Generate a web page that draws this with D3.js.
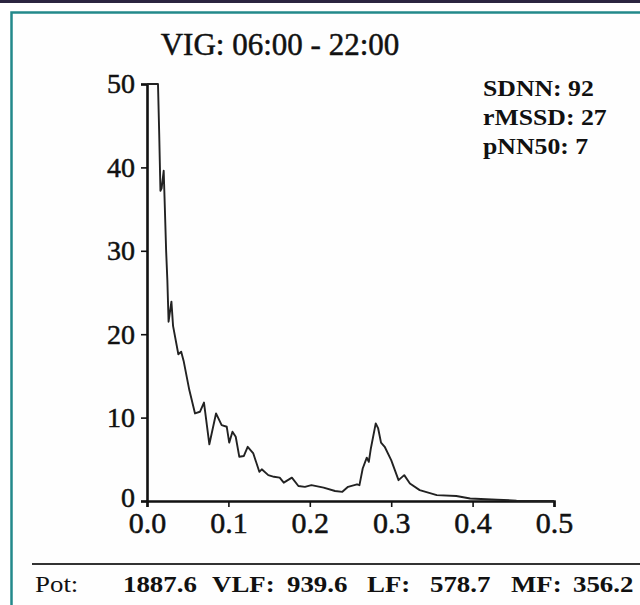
<!DOCTYPE html>
<html>
<head>
<meta charset="utf-8">
<script src="https://cdn.jsdelivr.net/npm/d3@7"></script>
<style>
  body { margin: 0; background: #ffffff; }
  svg { display: block; }
  text { font-family: "Liberation Serif", "Times New Roman", serif; fill: #111; }
</style>
</head>
<body>
<div id="chart"></div>
<script>
// Data
//= ================================
var freq = [0.000, 0.008, 0.0135, 0.015, 0.0165, 0.018, 0.0205, 0.0215, 0.0235, 0.025,
  0.0265, 0.030, 0.032, 0.0385, 0.042, 0.045, 0.052, 0.059, 0.065, 0.070,
  0.0766, 0.0848, 0.0917, 0.098, 0.101, 0.105, 0.109, 0.1134, 0.119, 0.1237,
  0.1306, 0.138, 0.141, 0.149, 0.156, 0.163, 0.168, 0.178, 0.186, 0.194,
  0.202, 0.217, 0.231, 0.240, 0.247, 0.258, 0.261, 0.265, 0.270, 0.2725,
  0.275, 0.281, 0.284, 0.2875, 0.292, 0.300, 0.309, 0.316, 0.323, 0.335,
  0.356, 0.380, 0.397, 0.430, 0.454, 0.500];
var power = [80, 65, 50, 44, 37.2, 37.5, 39.6, 36.5, 30, 26.5,
  21.5, 23.9, 21, 17.6, 17.9, 16.8, 13.3, 10.5, 10.7, 11.8,
  6.8, 10.5, 9.1, 8.9, 7.0, 8.3, 7.7, 5.3, 5.4, 6.5,
  5.7, 3.5, 3.8, 3.1, 2.9, 2.8, 2.2, 2.8, 1.8, 1.7,
  1.9, 1.6, 1.2, 1.1, 1.7, 2.0, 1.9, 3.9, 5.2, 4.7,
  6.3, 9.3, 8.7, 7.0, 6.5, 4.9, 2.5, 3.1, 2.1, 1.3,
  0.7, 0.6, 0.3, 0.15, 0.05, 0];

var xTicks = [0, 0.1, 0.2, 0.3, 0.4, 0.5];
var yTicks = [0, 10, 20, 30, 40, 50];

var title = "VIG: 06:00 - 22:00";
var statLabels = ["SDNN: 92", "rMSSD: 27", "pNN50: 7"];
var bandLabels = ["Pot:", "1887.6", "VLF:", "939.6", "LF:", "578.7", "MF:", "356.2"];

// Setup the chart
//= ================================
var svgWidth = 640;
var svgHeight = 605;

var plot = { left: 147, right: 554, top: 84, bottom: 501 };

var svg = d3.select("#chart")
  .append("svg")
  .attr("width", svgWidth)
  .attr("height", svgHeight);

// page frame: dark strip on top, teal border
svg.append("rect")
  .attr("x", 0).attr("y", 0)
  .attr("width", svgWidth).attr("height", 3)
  .attr("fill", "#2b2540");

svg.append("rect")
  .attr("x", 11.5).attr("y", 12.5)
  .attr("width", svgWidth + 20).attr("height", svgHeight)
  .attr("fill", "#fefefe")
  .attr("stroke", "#23898b")
  .attr("stroke-width", 2.5);

// scales
var xScale = d3.scaleLinear()
  .domain([0, 0.5])
  .range([plot.left, plot.right]);

var yScale = d3.scaleLinear()
  .domain([0, 50])
  .range([plot.bottom, plot.top])
  .clamp(true);

// axes
var bottomAxis = d3.axisBottom(xScale)
  .tickValues(xTicks)
  .tickFormat(d3.format(".1f"))
  .tickSizeOuter(0)
  .tickSize(6)
  .tickPadding(5);

var leftAxis = d3.axisLeft(yScale)
  .tickValues(yTicks)
  .tickFormat(d3.format("d"))
  .tickSizeOuter(0)
  .tickSize(6)
  .tickPadding(6);

var xAxis = svg.append("g")
  .attr("transform", `translate(0, ${plot.bottom})`)
  .call(bottomAxis);

var yAxis = svg.append("g")
  .attr("transform", `translate(${plot.left}, 0)`)
  .call(leftAxis);

[xAxis, yAxis].forEach(function (ax) {
  ax.select(".domain").attr("stroke", "#111").attr("stroke-width", 2.6);
  ax.selectAll(".tick line").attr("stroke", "#111").attr("stroke-width", 1.6);
  ax.selectAll(".tick text")
    .attr("fill", "#111")
    .attr("stroke", "#111")
    .attr("stroke-width", 0.5)
    .style("font-family", "Liberation Serif, serif");
});
xAxis.selectAll(".tick text").style("font-size", "30px");
yAxis.selectAll(".tick text").style("font-size", "28px");
// the zero label sits a little above the axis line
yAxis.selectAll(".tick text").filter(d => d === 0).attr("y", -3);

// spectrum line
var points = freq.map(function (f, i) { return { f: f, p: power[i] }; });

var line = d3.line()
  .x(d => xScale(d.f))
  .y(d => yScale(d.p));

svg.append("path")
  .datum(points)
  .attr("d", line)
  .attr("fill", "none")
  .attr("stroke", "#222")
  .attr("stroke-width", 1.9)
  .attr("stroke-linejoin", "round");

// title
svg.append("text")
  .attr("x", 280)
  .attr("y", 55)
  .attr("text-anchor", "middle")
  .attr("stroke", "#111")
  .attr("stroke-width", 0.5)
  .style("font-size", "31px")
  .text(title);

// time-domain stats (top right)
svg.selectAll(".stat")
  .data(statLabels)
  .enter()
  .append("text")
  .attr("class", "stat")
  .attr("transform", (d, i) => `translate(483, ${96 + i * 29}) scale(1.12, 1)`)
  .style("font-size", "23px")
  .style("font-weight", "bold")
  .text(d => d);

// band powers under the chart
svg.append("line")
  .attr("x1", 32).attr("x2", svgWidth)
  .attr("y1", 564).attr("y2", 564)
  .attr("stroke", "#333")
  .attr("stroke-width", 2);

var bandX = [35, 123, 212, 287, 367, 430, 511, 573];

svg.selectAll(".band")
  .data(bandLabels)
  .enter()
  .append("text")
  .attr("class", "band")
  .attr("transform", (d, i) => `translate(${bandX[i]}, 592) scale(1.12, 1)`)
  .style("font-size", "24px")
  .style("font-weight", (d, i) => i === 0 ? "normal" : "bold")
  .text(d => d);
</script>
</body>
</html>
